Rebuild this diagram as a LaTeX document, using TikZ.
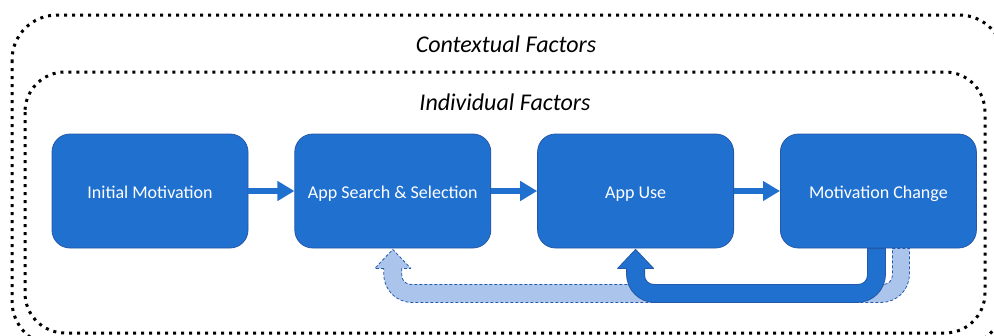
\documentclass[tikz,border=0pt]{standalone}
\usepackage{fontspec}
\setmainfont{Carlito}
\usetikzlibrary{positioning,arrows.meta,calc}

\definecolor{stageblue}{RGB}{32,112,208}
\definecolor{stageedge}{RGB}{36,88,168}
\definecolor{loopblue}{RGB}{170,196,235}

\begin{document}
\begin{tikzpicture}[x=1pt, y=-1pt,
        stage/.style={rectangle, rounded corners=18pt, draw=stageedge, line width=0.8pt,
            fill=stageblue, text=white, minimum width=196pt, minimum height=114pt,
            inner sep=0pt, text height=14pt, text depth=0pt, font=\fontsize{18}{20}\selectfont},
        factorframe/.style={line width=3pt, dash pattern=on 3pt off 5pt, rounded corners=#1},
        factorlabel/.style={font=\fontsize{24}{28}\selectfont\itshape},
        flow/.style={draw=stageblue, line width=6.5pt, -{Triangle[length=17pt, width=19pt]}},
        backloop/.style={fill=stageblue, draw=stageedge, line width=0.8pt, line join=round},
        tryagain/.style={fill=loopblue, draw=stageedge, line width=0.8pt, line join=round,
            dash pattern=on 3pt off 2pt}]
        \useasboundingbox (0,0) rectangle (994,335);

        % FRAMES
        % -----------------
        \begin{scope}
            \clip (0,0) rectangle (994,335);
            \draw[factorframe=45pt] (12,15) rectangle (1004,346);
            \draw[factorframe=40pt] (25,72) rectangle (985,333);
        \end{scope}

        \node[factorlabel] (context) at (506,44) {Contextual Factors};
        \node[factorlabel] (individual) at (505,102) {Individual Factors};

        % NODES
        % -----------------
        \node[stage] (motive) at (150,191) {Initial Motivation};
        \node[stage, right=46pt of motive] (search) {App Search \& Selection};
        \node[stage, right=46pt of search] (use) {App Use};
        \node[stage, right=46pt of use] (change) {Motivation Change};

        % EDGES
        % -----------------
        \draw[flow] (motive) -- (search);
        \draw[flow] (search) -- (use);
        \draw[flow] (use) -- (change);

        % back to search (light, dashed)
        \draw[tryagain] ($(search.south)+(-9,20)$) -- ($(search.south)+(-18,20)$)
            -- ($(search.south)+(0,1)$) -- ($(search.south)+(18,20)$) -- ($(search.south)+(9,20)$)
            [rounded corners=9pt] -- ($(search.south)+(9,36)$) -- ($(change.south)+(14,36)$)
            [sharp corners] -- ($(change.south)+(14,0)$) -- ($(change.south)+(31,0)$)
            [rounded corners=28pt] -- ($(change.south)+(31,54)$) -- ($(search.south)+(-9,54)$)
            [sharp corners] -- cycle;

        % back to use
        \draw[backloop] ($(use.south)+(-9,20)$) -- ($(use.south)+(-18,20)$)
            -- ($(use.south)+(0,1)$) -- ($(use.south)+(18,20)$) -- ($(use.south)+(9,20)$)
            [rounded corners=9pt] -- ($(use.south)+(9,36)$) -- ($(change.south)+(-11,36)$)
            [sharp corners] -- ($(change.south)+(-11,0)$) -- ($(change.south)+(7,0)$)
            [rounded corners=28pt] -- ($(change.south)+(7,54)$) -- ($(use.south)+(-9,54)$)
            [sharp corners] -- cycle;

\end{tikzpicture}
\end{document}
